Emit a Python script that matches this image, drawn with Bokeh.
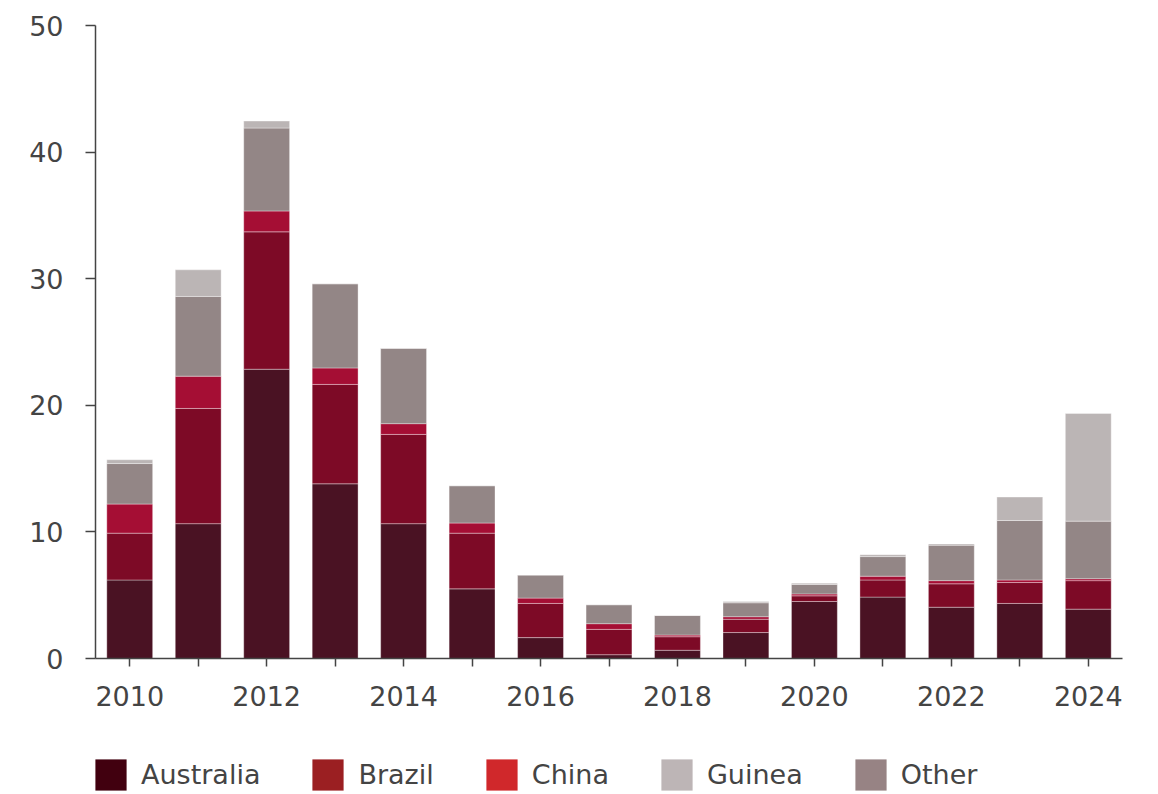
from bokeh.plotting import figure
from bokeh.layouts import column
from bokeh.models import ColumnDataSource, FixedTicker, Legend, LegendItem, Range1d
from bokeh.embed import file_html
from bokeh.resources import INLINE

years = list(range(2010, 2025))
australia = [6.2, 10.65, 22.85, 13.8, 10.65, 5.5, 1.65, 0.3, 0.65, 2.05, 4.5, 4.85, 4.05, 4.35, 3.9]
brazil    = [3.7, 9.1, 10.85, 7.85, 7.05, 4.4, 2.7, 2.0, 1.07, 1.05, 0.45, 1.35, 1.85, 1.65, 2.25]
china     = [2.3, 2.55, 1.65, 1.3, 0.85, 0.8, 0.42, 0.45, 0.13, 0.2, 0.15, 0.3, 0.25, 0.2, 0.15]
other     = [3.2, 6.3, 6.55, 6.65, 5.95, 2.95, 1.82, 1.5, 1.55, 1.1, 0.75, 1.55, 2.8, 4.7, 4.55]
guinea    = [0.3, 2.1, 0.55, 0.0, 0.0, 0.0, 0.0, 0.0, 0.0, 0.1, 0.1, 0.15, 0.1, 1.85, 8.5]

series = ["Australia", "Brazil", "China", "Other", "Guinea"]
bar_colors = ["#4a1223", "#7d0a26", "#a50e34", "#938686", "#bbb5b5"]
legend_order = ["Australia", "Brazil", "China", "Guinea", "Other"]
legend_colors = ["#41000f", "#9b1f22", "#d0282b", "#bdb5b6", "#978384"]
y_ticks = [0, 10, 20, 30, 40, 50]

FONT = "DejaVu Sans"
TXT = "#444444"

src = ColumnDataSource(dict(year=years, Australia=australia, Brazil=brazil,
                            China=china, Other=other, Guinea=guinea))

p = figure(frame_width=1027, frame_height=633, output_backend="svg", toolbar_location=None,
           x_range=Range1d(2009.5, 2024.5), y_range=Range1d(0, 50),
           min_border_left=95, min_border_right=28, min_border_top=25,
           min_border_bottom=80)
p.outline_line_color = None
p.xgrid.visible = False
p.ygrid.visible = False

p.vbar_stack(series, x="year", width=0.67, source=src, color=bar_colors,
             line_color="white", line_alpha=0.35, line_width=1)

for ax in (p.xaxis[0], p.yaxis[0]):
    ax.axis_line_color = TXT
    ax.axis_line_width = 1.5
    ax.major_tick_line_color = TXT
    ax.major_tick_line_width = 1.5
    ax.minor_tick_line_color = None
    ax.major_label_text_font = FONT
    ax.major_label_text_font_size = "27px"
    ax.major_label_text_color = TXT

p.xaxis.ticker = FixedTicker(ticks=years)
p.xaxis.major_label_overrides = {y: (str(y) if y % 2 == 0 else "") for y in years}
p.xaxis.major_tick_out = 8
p.xaxis.major_tick_in = 0
p.xaxis.major_label_standoff = 19

p.yaxis.ticker = FixedTicker(ticks=y_ticks)
p.yaxis.major_tick_out = 10
p.yaxis.major_tick_in = 0
p.yaxis.major_label_standoff = 22

# legend strip below the chart
lg = figure(width=1150, height=56, output_backend="svg", toolbar_location=None,
            x_range=Range1d(0, 1), y_range=Range1d(0, 1),
            x_axis_location=None, y_axis_location=None,
            min_border=0)
lg.outline_line_color = None
lg.xgrid.visible = False
lg.ygrid.visible = False

items = []
for name, col in zip(legend_order, legend_colors):
    r = lg.quad(left=[-3], right=[-2], bottom=[-3], top=[-2],
                fill_color=col, line_color=None)
    items.append(LegendItem(label=name, renderers=[r]))

legend = Legend(items=items, orientation="horizontal", location=(-4, 0),
                glyph_width=39, glyph_height=39, label_text_font=FONT,
                label_text_font_size="27px", label_text_color=TXT,
                spacing=48, padding=0, margin=0, border_line_color=None,
                background_fill_alpha=0, label_standoff=11)
lg.add_layout(legend, "center")

layout = column(p, lg, spacing=0)

open("out.html", "w").write(file_html(layout, INLINE))
